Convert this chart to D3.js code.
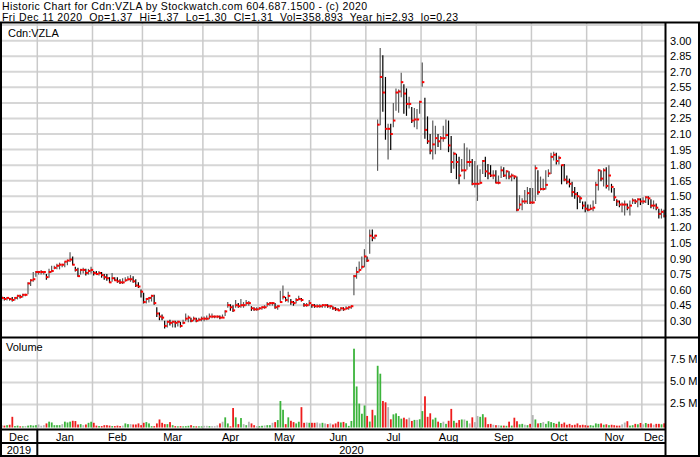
<!DOCTYPE html>
<html>
<head>
<meta charset="utf-8">
<script src="https://cdn.jsdelivr.net/npm/d3@7"></script>
<style>
  body { margin: 0; background: #fff; }
  text { font-family: "Liberation Sans", Arial, sans-serif; font-size: 11px; fill: #000; }
</style>
</head>
<body>
<svg id="chart" width="700" height="457"></svg>
<script>
//------------------- data ------------------
var monthNames = ["Dec", "Jan", "Feb", "Mar", "Apr", "May", "Jun", "Jul", "Aug", "Sep", "Oct", "Nov", "Dec"];
var monthDays  = [14, 21, 19, 23, 21, 20, 21, 21, 21, 21, 21, 21, 9];   // trading days shown per month
var yearNames  = ["2019", "2020"];

var high = [
  .54,.53,.53,.52,.53,.53,.55,.55,.56,.56,.67,.70,.77,.78,
  .78,.79,.78,.75,.80,.83,.83,.85,.86,.85,.87,.89,.96,.92,.82,.81,.80,.81,.80,.80,.82,
  .78,.78,.78,.77,.75,.75,.72,.76,.72,.72,.70,.71,.72,.73,.74,.73,.70,.67,.60,
  .57,.52,.53,.55,.55,.43,.38,.36,.30,.30,.31,.30,.30,.30,.29,.31,.37,.35,.33,.34,.33,.33,.34,
  .34,.35,.37,.37,.35,.35,.35,.36,.40,.48,.46,.45,.50,.47,.51,.48,.50,.49,.44,.43,.43,
  .43,.44,.45,.48,.48,.48,.47,.45,.59,.64,.53,.58,.51,.49,.52,.54,.52,.47,.47,.50,
  .46,.46,.46,.46,.46,.46,.46,.45,.44,.43,.42,.43,.43,.44,.44,.45,.74,.82,.87,.92,.99,
  .92,1.18,1.18,1.13,2.24,2.93,2.86,2.65,2.20,2.20,2.40,2.54,2.53,2.69,2.58,2.54,2.46,2.36,2.35,2.34,2.42,
  2.79,2.45,2.27,2.10,2.23,2.18,2.10,2.08,2.18,2.24,2.23,2.08,1.93,1.91,1.88,1.86,2.01,1.97,1.95,1.86,1.84,
  1.80,1.76,1.85,1.88,1.81,1.80,1.75,1.75,1.70,1.79,1.78,1.75,1.74,1.72,1.70,1.69,1.51,1.48,1.56,1.59,1.58,
  1.58,1.80,1.75,1.69,1.67,1.75,1.76,1.92,1.93,1.92,1.89,1.80,1.81,1.70,1.67,1.64,1.59,1.54,1.50,1.45,1.45,
  1.42,1.42,1.46,1.64,1.76,1.75,1.77,1.78,1.80,1.62,1.58,1.47,1.46,1.44,1.46,1.43,1.46,1.48,1.47,1.48,1.48,
  1.49,1.50,1.50,1.47,1.46,1.43,1.38,1.38,1.37
];
var low = [
  .50,.50,.50,.50,.49,.50,.51,.52,.53,.54,.56,.64,.68,.73,
  .75,.75,.75,.70,.72,.77,.80,.80,.80,.82,.82,.84,.87,.84,.78,.73,.75,.76,.74,.75,.76,
  .74,.75,.74,.72,.70,.69,.67,.68,.69,.67,.66,.66,.68,.69,.68,.67,.63,.62,.53,
  .47,.47,.48,.49,.46,.34,.31,.31,.23,.24,.26,.24,.24,.25,.24,.27,.30,.29,.29,.30,.29,.30,.30,
  .30,.31,.32,.33,.33,.33,.32,.33,.35,.43,.40,.39,.43,.43,.43,.43,.45,.45,.40,.40,.40,
  .41,.41,.42,.44,.45,.45,.42,.41,.48,.51,.49,.48,.46,.45,.47,.50,.49,.44,.44,.45,
  .43,.43,.43,.43,.43,.43,.43,.42,.41,.40,.40,.40,.40,.41,.41,.42,.55,.71,.77,.80,.82,
  .87,.95,1.07,1.09,1.75,2.19,2.32,2.05,1.86,1.95,2.17,2.33,2.31,2.46,2.30,2.28,2.35,2.21,2.17,2.15,2.30,
  2.56,2.06,2.01,1.91,1.86,1.91,1.98,1.95,2.03,2.06,1.93,1.73,1.77,1.67,1.62,1.74,1.67,1.76,1.79,1.61,1.59,
  1.46,1.62,1.72,1.69,1.67,1.69,1.67,1.63,1.62,1.68,1.69,1.67,1.67,1.65,1.67,1.36,1.38,1.37,1.43,1.43,1.43,
  1.43,1.46,1.52,1.56,1.56,1.57,1.69,1.72,1.85,1.81,1.81,1.62,1.65,1.62,1.59,1.50,1.48,1.38,1.44,1.38,1.35,
  1.36,1.37,1.36,1.43,1.56,1.65,1.60,1.58,1.56,1.54,1.46,1.41,1.40,1.35,1.32,1.37,1.32,1.43,1.43,1.40,1.42,
  1.43,1.44,1.42,1.39,1.38,1.37,1.29,1.29,1.30
];
var close = [
  .52,.51,.52,.51,.50,.52,.54,.53,.55,.55,.66,.69,.70,.77,
  .77,.77,.77,.72,.77,.78,.81,.83,.84,.84,.87,.88,.89,.84,.79,.73,.79,.79,.76,.78,.79,
  .76,.75,.76,.74,.72,.71,.67,.71,.69,.68,.67,.67,.69,.70,.70,.68,.64,.63,.58,
  .48,.51,.52,.54,.47,.37,.34,.33,.25,.29,.28,.29,.28,.29,.25,.28,.32,.33,.30,.32,.30,.31,.32,
  .32,.32,.34,.34,.34,.34,.33,.33,.39,.45,.43,.40,.45,.44,.45,.45,.47,.47,.42,.41,.41,
  .42,.43,.43,.46,.47,.47,.43,.44,.48,.53,.50,.54,.48,.47,.50,.51,.50,.45,.45,.47,
  .45,.44,.44,.44,.45,.45,.44,.44,.42,.41,.40,.42,.41,.42,.43,.44,.73,.77,.79,.82,.92,
  .88,1.12,1.10,1.12,2.19,2.65,2.50,2.15,2.15,2.10,2.23,2.50,2.51,2.60,2.49,2.39,2.39,2.23,2.24,2.24,2.41,
  2.60,2.14,2.03,1.94,2.00,2.06,2.03,2.06,2.06,2.09,1.99,1.83,1.91,1.83,1.70,1.75,1.75,1.83,1.83,1.62,1.62,
  1.62,1.63,1.84,1.74,1.72,1.70,1.70,1.63,1.63,1.75,1.70,1.74,1.69,1.70,1.69,1.37,1.42,1.45,1.45,1.53,1.44,
  1.44,1.77,1.54,1.57,1.57,1.61,1.72,1.88,1.90,1.84,1.87,1.80,1.66,1.64,1.62,1.54,1.52,1.50,1.48,1.41,1.38,
  1.37,1.38,1.39,1.61,1.75,1.67,1.75,1.60,1.70,1.59,1.49,1.45,1.42,1.42,1.42,1.39,1.41,1.46,1.45,1.47,1.45,
  1.45,1.49,1.48,1.41,1.41,1.39,1.33,1.35,1.31
];
// volume in millions of shares
var volume = [
  .15,.1,.15,.2,1.1,.05,.1,.02,.02,.05,.1,.15,.1,.15,
  .23,.08,.15,.35,.55,.46,.15,.15,.15,.27,.55,.46,.55,.65,.62,.23,.27,.15,.23,.42,.54,
  .42,.1,.05,.05,.15,.15,.1,.05,.05,.1,.05,.1,.35,.27,.27,.23,.23,.35,.15,
  .42,.5,.35,.04,.04,.35,.8,.42,.27,.27,.5,.15,.04,.02,.04,.02,.04,.08,.15,.04,.02,.02,.02,
  .08,.08,.04,.04,.04,.12,.35,.54,1.04,.35,.02,2.1,1.04,.27,.96,.27,.15,.54,.35,.15,.04,
  .04,.08,.12,.15,.15,.42,.5,.73,2.9,1.9,.27,1.04,.65,.5,.35,.54,2.2,.42,.46,.42,
  .42,.42,.46,.35,.42,.35,.27,.35,.23,.35,.54,.46,.52,.37,.07,.63,8.84,4.55,2.6,1.45,2.39,
  1.2,.56,1.9,1.27,6.9,6.0,2.9,2.75,2.2,.82,1.38,1.49,1.19,.89,1.0,.82,1.0,.63,.75,.75,.82,
  1.75,3.43,1.1,1.5,.8,1.0,.55,.4,.55,.3,.65,2.0,.65,.42,.73,.8,.8,.65,.35,1.04,.5,
  1.2,1.1,1.4,1.04,.27,.3,.2,.15,.15,.1,.1,.08,.55,.1,1.0,.6,.25,.3,.2,.15,.3,
  1.3,.8,.35,.4,.5,.3,.6,.5,.4,.3,.55,.3,.45,.2,.3,.15,.2,.35,.15,.2,.15,
  .1,.15,.1,.35,.3,.35,.2,.25,.15,.2,.15,.1,.1,.25,.45,.6,.1,.15,.3,.25,.4,
  .25,.4,.3,.35,.2,.3,.3,.25,.36
];
var priceTicks = [3.00, 2.85, 2.70, 2.55, 2.40, 2.25, 2.10, 1.95, 1.80, 1.65, 1.50, 1.35, 1.20, 1.05, 0.90, 0.75, 0.60, 0.45, 0.30];
var priceGrid  = priceTicks.concat([3.15]);
var volTicks   = [7.5, 5.0, 2.5];

var titleLine1 = "Historic Chart for Cdn:VZLA by Stockwatch.com 604.687.1500 - (c) 2020";
var titleLine2 = "Fri Dec 11 2020  Op=1.37  Hi=1.37  Lo=1.30  Cl=1.31  Vol=358,893  Year hi=2.93  lo=0.23";

//------------------- layout ------------------
var svg = d3.select('#chart');
var nDays = d3.sum(monthDays);
var plotRight = 665.5;

var x  = d3.scaleLinear().domain([0, nDays]).range([0.5, plotRight]);
var y  = d3.scaleLinear().domain([0.15, 3.15]).range([336.3, 25.1]);
var yv = d3.scaleLinear().domain([0, 10]).range([426.5, 338.5]);

var monthStart = [];
var acc = 0;
monthDays.forEach(function(d) { monthStart.push(acc); acc += d; });

svg.append('rect').attr('width', 700).attr('height', 457).attr('fill', '#fff');

// titles (two lines, stretched to the widths they have on the original)
svg.append('text').attr('x', 2).attr('y', 9.8)
   .style('font-size', '10.5px')
   .attr('textLength', 365).attr('lengthAdjust', 'spacing')
   .text(titleLine1);
svg.append('text').attr('x', 2).attr('y', 21)
   .style('font-size', '10.5px')
   .attr('xml:space', 'preserve').style('white-space', 'pre')
   .attr('textLength', 456).attr('lengthAdjust', 'spacing')
   .text(titleLine2);

// grid - price panel
var grid = svg.append('g');
grid.selectAll('line.hp').data(priceGrid).enter().append('line')
    .attr('x1', 1).attr('x2', plotRight)
    .attr('y1', function(d) { return y(d); }).attr('y2', function(d) { return y(d); })
    .attr('stroke', '#d6d6d6').attr('stroke-width', 2);
grid.selectAll('line.hv').data(volTicks).enter().append('line')
    .attr('x1', 1).attr('x2', plotRight)
    .attr('y1', function(d) { return yv(d); }).attr('y2', function(d) { return yv(d); })
    .attr('stroke', '#d6d6d6').attr('stroke-width', 2);
grid.selectAll('line.vm').data(monthStart.slice(1)).enter().append('line')
    .attr('x1', function(d) { return x(d); }).attr('x2', function(d) { return x(d); })
    .attr('y1', 23).attr('y2', 429)
    .attr('stroke', '#cacaca').attr('stroke-width', 1.5);

// volume bars
function dayColor(i) {
  if (i === 0 || close[i] === close[i - 1]) return '#b4b4b4';
  return close[i] > close[i - 1] ? '#3cb43c' : '#ee1c1c';
}
svg.append('g').selectAll('rect').data(volume).enter().append('rect')
   .attr('x', function(d, i) { return x(i) + 0.4; })
   .attr('y', function(d) { return yv(d); })
   .attr('width', 1.8)
   .attr('height', function(d) { return yv(0) - yv(d) + 1; })
   .attr('fill', function(d, i) { return dayColor(i); });

// price bars: high-low line + red close tick
var bars = svg.append('g');
bars.selectAll('line').data(high).enter().append('line')
    .attr('x1', function(d, i) { return x(i) + 1.2; })
    .attr('x2', function(d, i) { return x(i) + 1.2; })
    .attr('y1', function(d) { return y(d); })
    .attr('y2', function(d, i) { return y(low[i]) + 0.5; })
    .attr('stroke', function(d, i) { return (i > 0 && close[i] < close[i - 1]) ? '#000' : '#5a5a5a'; })
    .attr('stroke-width', 1.2);
bars.selectAll('rect').data(close).enter().append('rect')
    .attr('x', function(d, i) { return x(i) + 0.9; })
    .attr('y', function(d) { return y(d) - 1; })
    .attr('width', 2.4).attr('height', 2)
    .attr('fill', '#ff0000');

// right axes
var priceAxis = d3.axisRight(y).tickValues(priceTicks).tickSize(0).tickPadding(0)
    .tickFormat(d3.format('.2f'));
var pa = svg.append('g').attr('transform', 'translate(670,0)').call(priceAxis);
pa.select('.domain').remove();
pa.selectAll('text').attr('font-family', null).attr('font-size', null);

var volAxis = d3.axisRight(yv).tickValues(volTicks).tickSize(0).tickPadding(0)
    .tickFormat(function(d) { return d3.format('.1f')(d) + ' M'; });
var va = svg.append('g').attr('transform', 'translate(670,-1.5)').call(volAxis);
va.select('.domain').remove();
va.selectAll('text').attr('font-family', null).attr('font-size', null);

// panel labels
svg.append('text').attr('x', 8).attr('y', 37).text('Cdn:VZLA');
svg.append('text').attr('x', 6).attr('y', 351).text('Volume');

// month and year labels
svg.append('g').selectAll('text').data(monthNames).enter().append('text')
   .attr('x', function(d, i) { return x(monthStart[i] + monthDays[i] / 2); })
   .attr('y', 440.5).attr('text-anchor', 'middle').text(function(d) { return d; });
var yearSpan = [[0, monthStart[1]], [monthStart[1], nDays]];
svg.append('g').selectAll('text').data(yearNames).enter().append('text')
   .attr('x', function(d, i) { return x((yearSpan[i][0] + yearSpan[i][1]) / 2); })
   .attr('y', 453.5).attr('text-anchor', 'middle').text(function(d) { return d; });

// frame
var frame = svg.append('g').attr('stroke', '#000').attr('stroke-width', 2).attr('fill', 'none');
function seg(x1, y1, x2, y2) {
  frame.append('line').attr('x1', x1).attr('y1', y1).attr('x2', x2).attr('y2', y2);
}
seg(0, 22.5, 700, 22.5);
seg(0, 337.5, 700, 337.5);
seg(0, 429.5, plotRight, 429.5);
seg(0, 443, plotRight, 443);
seg(0, 456, 700, 456);
seg(1, 22.5, 1, 457);
seg(699, 22.5, 699, 457);
seg(plotRight, 22.5, plotRight, 457);
seg(x(monthStart[1]), 429.5, x(monthStart[1]), 456);
</script>
</body>
</html>
